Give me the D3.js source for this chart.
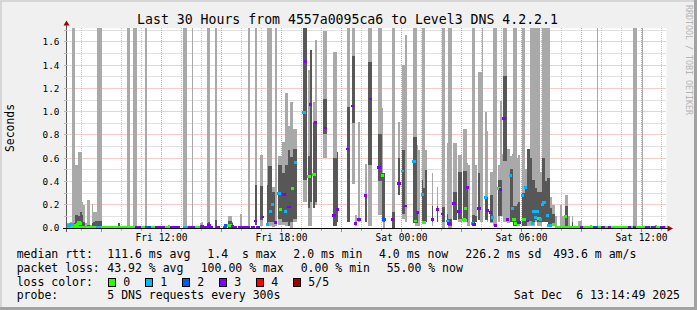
<!DOCTYPE html>
<html>
<head>
<meta charset="utf-8">
<script src="https://cdn.jsdelivr.net/npm/d3@7"></script>
<style>
  html, body { margin: 0; padding: 0; background: #f0f0f0; }
  svg { display: block; }
  text { font-family: "DejaVu Sans Mono", monospace; fill: #000; }
</style>
</head>
<body>
<div id="chart"></div>
<script>
// slot = 5 minute step counted from the graph start (Fri 07:14:49), 360 slots = 30 h
// smoke: [slot, low, high, dark low, dark high] in seconds (1.80 = above the top)
var smoke = [
  [0, 0.00, 0.04, null, null], [1, 0.00, 0.04, 0.00, 0.02], [2, 0.00, 0.05, 0.01, 0.03],
  [3, 0.01, 1.80, 0.01, 0.04], [4, 0.01, 1.80, 0.01, 0.04], [5, 0.00, 0.54, 0.01, 0.11],
  [6, 0.00, 0.54, 0.01, 0.11], [7, 0.00, 0.65, 0.02, 0.10], [8, 0.00, 0.65, 0.02, 0.14],
  [9, 0.00, 0.22, 0.02, 0.11], [10, 0.00, 0.20, 0.01, 0.05], [11, 0.00, 0.04, null, null],
  [12, 0.00, 0.24, 0.01, 0.03], [13, 0.00, 0.24, 0.01, 0.03], [14, 0.00, 0.03, null, null],
  [15, 0.00, 0.21, 0.01, 0.04], [16, 0.00, 0.14, 0.01, 0.05], [17, 0.00, 0.14, 0.01, 0.06],
  [18, 0.01, 1.80, 0.01, 0.06], [19, 0.01, 1.80, 0.01, 0.06], [20, 0.01, 1.80, 0.01, 0.06],
  [26, 0.00, 0.02, null, null], [31, 0.00, 0.04, 0.00, 0.04],
  [36, 0.00, 1.80, null, null], [37, 0.00, 1.80, null, null],
  [40, 0.00, 1.80, null, null], [41, 0.00, 1.80, null, null], [47, 0.00, 1.80, null, null],
  [61, 0.00, 0.03, null, null], [70, 0.00, 1.80, null, null], [71, 0.00, 1.80, null, null],
  [75, 0.00, 1.80, null, null], [80, 0.00, 0.04, 0.00, 0.03], [81, 0.00, 0.05, 0.00, 0.03],
  [84, 0.00, 1.80, 0.00, 0.04], [85, 0.00, 1.80, 0.00, 0.05], [89, 0.00, 1.80, 0.00, 0.07],
  [95, 0.00, 0.03, 0.00, 0.03], [97, 0.00, 0.10, 0.00, 0.06], [98, 0.00, 0.10, 0.00, 0.06],
  [99, 0.00, 0.05, 0.00, 0.04], [104, 0.00, 0.12, null, null], [109, 0.00, 1.80, null, null],
  [113, 0.03, 1.80, 0.03, 0.37], [116, 0.02, 0.63, 0.07, 0.36], [117, 0.02, 0.63, 0.07, 0.36],
  [120, 0.02, 1.80, 0.02, 0.37], [121, 0.02, 1.80, 0.05, 0.53], [122, 0.02, 1.80, 0.05, 0.53],
  [123, 0.01, 0.35, 0.05, 0.31], [124, 0.01, 0.35, 0.05, 0.31], [125, 0.02, 1.80, null, null],
  [127, 0.03, 0.62, 0.08, 0.54], [128, 0.03, 0.62, 0.08, 0.54], [129, 0.03, 0.74, 0.05, 0.47],
  [130, 0.03, 0.74, 0.05, 0.47], [131, 0.02, 1.16, 0.05, 0.54], [132, 0.02, 1.16, 0.05, 0.54],
  [133, 0.02, 0.88, 0.02, 0.67], [134, 0.00, 1.08, 0.05, 0.61], [135, 0.00, 1.08, 0.05, 0.61],
  [136, 0.05, 0.85, 0.08, 0.68], [137, 0.05, 0.85, 0.08, 0.68],
  [142, 0.22, 1.80, 0.41, 1.80], [143, 0.22, 1.80, 0.41, 1.80],
  [145, 0.02, 1.36, 0.17, 0.62], [146, 0.02, 1.53, 0.22, 1.53],
  [148, 0.20, 1.08, 0.17, 0.91], [149, 0.20, 1.62, 0.22, 0.91],
  [154, 0.60, 1.69, 0.81, 1.11], [155, 0.60, 1.69, 0.81, 1.11],
  [160, 0.05, 1.51, 0.02, 0.60], [161, 0.05, 1.51, 0.02, 0.60], [162, 0.05, 0.65, 0.05, 0.65],
  [168, 0.05, 1.80, 0.05, 1.04], [169, 0.05, 1.80, 0.05, 1.04],
  [171, 0.38, 1.80, 0.90, 1.48], [172, 0.38, 1.80, 0.90, 1.48],
  [173, 0.02, 0.11, null, null], [175, 0.05, 0.91, null, null], [179, 0.05, 0.55, 0.05, 0.28],
  [181, 0.02, 1.80, 0.54, 1.43], [182, 0.02, 1.80, 0.54, 1.43],
  [187, 0.11, 1.80, 0.40, 0.81], [188, 0.11, 1.80, 0.40, 0.81],
  [189, 0.05, 1.03, 0.08, 0.47], [190, 0.00, 0.47, 0.05, 0.47],
  [195, 0.00, 1.80, 0.00, 0.14], [196, 0.00, 1.80, 0.00, 0.14], [199, 0.28, 0.91, 0.28, 0.60],
  [201, 0.08, 1.40, 0.12, 0.67], [202, 0.08, 1.40, 0.12, 0.67], [203, 0.05, 1.66, null, null],
  [208, 0.04, 1.80, 0.04, 0.78], [209, 0.02, 1.80, 0.04, 0.78], [210, 0.02, 0.71, 0.04, 0.13],
  [211, 0.02, 0.67, null, null], [213, 0.04, 1.80, 0.05, 0.41], [214, 0.04, 1.80, 0.04, 0.34],
  [215, 0.05, 0.67, 0.05, 0.50], [219, 0.02, 0.47, 0.05, 0.19], [222, 0.05, 0.35, 0.05, 0.19],
  [225, 0.00, 1.80, 0.05, 0.18], [226, 0.00, 1.80, 0.05, 0.18], [228, 0.05, 0.73, 0.04, 0.12],
  [229, 0.00, 1.80, 0.02, 0.08], [230, 0.00, 1.80, 0.02, 0.08],
  [232, 0.07, 0.73, 0.07, 0.31], [233, 0.07, 0.73, 0.07, 0.31],
  [235, 0.05, 0.63, 0.08, 0.48], [236, 0.05, 0.63, 0.08, 0.48],
  [238, 0.05, 0.85, 0.08, 0.49], [239, 0.05, 0.85, 0.08, 0.49],
  [240, 0.02, 0.56, 0.05, 0.35], [241, 0.02, 0.54, null, null],
  [243, 0.02, 1.80, 0.02, 0.11], [244, 0.02, 1.80, 0.02, 0.11], [245, 0.05, 0.54, 0.05, 0.10],
  [247, 0.07, 1.34, 0.07, 0.47], [248, 0.05, 1.34, null, null], [249, 0.05, 1.80, null, null],
  [251, 0.07, 1.00, 0.07, 0.27], [252, 0.05, 0.83, 0.07, 0.27],
  [254, 0.04, 0.48, 0.05, 0.28], [255, 0.04, 0.48, 0.05, 0.28],
  [256, 0.02, 1.80, null, null], [257, 0.02, 1.80, null, null],
  [259, 0.05, 0.54, 0.10, 0.41], [260, 0.10, 1.09, 0.10, 0.41], [261, 0.10, 0.64, null, null],
  [262, 0.05, 1.80, 0.58, 1.31], [263, 0.05, 1.80, 0.58, 1.31],
  [264, 0.04, 0.68, null, null], [265, 0.04, 0.68, null, null],
  [266, 0.05, 0.62, 0.05, 0.51], [267, 0.05, 0.64, 0.05, 0.51],
  [268, 0.02, 1.80, 0.02, 0.19], [269, 0.02, 1.80, 0.02, 0.19],
  [270, 0.02, 0.60, 0.05, 0.21], [271, 0.02, 0.63, 0.05, 0.22],
  [273, 0.02, 1.80, 0.02, 0.30], [274, 0.02, 1.80, 0.02, 0.30], [275, 0.02, 0.51, 0.02, 0.35],
  [276, 0.02, 0.68, 0.05, 0.68], [277, 0.02, 0.68, 0.05, 0.68], [278, 0.02, 1.80, 0.05, 0.60],
  [279, 0.02, 1.80, 0.05, 0.41], [280, 0.02, 1.80, 0.05, 0.41], [281, 0.05, 1.80, 0.07, 0.34],
  [282, 0.02, 1.80, 0.05, 0.31], [283, 0.02, 1.80, 0.05, 0.31], [284, 0.02, 0.48, 0.05, 0.31],
  [285, 0.05, 1.80, 0.05, 0.60], [286, 0.05, 1.80, 0.05, 0.60], [287, 0.05, 1.80, 0.05, 0.40],
  [288, 0.05, 1.80, 0.05, 0.43], [289, 0.02, 1.80, 0.02, 0.43], [290, 0.02, 0.27, 0.02, 0.17],
  [291, 0.02, 0.20, 0.02, 0.12], [292, 0.02, 0.20, 0.02, 0.12], [293, 0.02, 0.10, null, null],
  [296, 0.00, 0.20, null, null], [297, 0.00, 0.10, null, null], [298, 0.00, 0.10, null, null],
  [299, 0.00, 0.28, 0.00, 0.19], [300, 0.00, 0.28, 0.00, 0.19], [301, 0.00, 0.10, null, null],
  [303, 0.00, 0.10, 0.00, 0.05], [305, 0.00, 0.02, null, null],
  [307, 0.00, 0.06, null, null], [308, 0.00, 0.06, null, null],
  [312, 0.00, 0.02, null, null], [314, 0.00, 0.03, null, null], [318, 0.00, 1.80, null, null],
  [340, 0.00, 1.80, null, null], [341, 0.00, 1.80, null, null], [345, 0.00, 1.80, null, null],
  [353, 0.00, 0.03, null, null], [357, 0.00, 0.02, null, null]
];

// median rtt: [slot, seconds, lost pings]
var medians = [
  [1, 0.02, 1], [2, 0.03, 1], [3, 0.03, 1], [5, 0.02, 0], [6, 0.03, 0], [7, 0.045, 0], [8, 0.04, 0],
  [81, 0.015, 3], [85, 0.02, 3], [95, 0.02, 2], [97, 0.02, 0], [98, 0.02, 0], [99, 0.015, 3],
  [113, 0.06, 3], [117, 0.095, 3], [120, 0.03, 1], [122, 0.14, 1], [123, 0.20, 1], [125, 0.05, 3],
  [127, 0.30, 1], [128, 0.16, 0], [130, 0.29, 3], [131, 0.14, 1], [133, 0.18, 3], [135, 0.34, 0],
  [137, 0.56, 1], [142, 0.99, 1], [143, 1.43, 3], [145, 0.44, 0], [146, 1.06, 3], [148, 0.46, 0],
  [149, 0.91, 3], [155, 0.86, 3], [160, 0.11, 3], [162, 0.16, 3], [168, 0.68, 3], [171, 1.05, 3],
  [173, 0.04, 3], [175, 0.07, 3], [179, 0.28, 3], [182, 1.11, 3], [187, 0.52, 3], [189, 0.45, 0],
  [190, 0.07, 2], [195, 0.07, 3], [199, 0.38, 3], [201, 0.49, 1], [203, 0.19, 3], [208, 0.57, 1],
  [209, 0.06, 0], [210, 0.13, 3], [213, 0.29, 1], [214, 0.05, 0], [219, 0.07, 3], [222, 0.16, 3],
  [225, 0.12, 3], [228, 0.06, 1], [229, 0.04, 3], [232, 0.21, 3], [235, 0.14, 3], [238, 0.07, 0],
  [239, 0.17, 0], [240, 0.35, 3], [243, 0.04, 1], [244, 0.03, 3], [247, 0.17, 3], [251, 0.26, 1],
  [252, 0.15, 3], [254, 0.13, 3], [255, 0.09, 1], [257, 0.02, 3], [259, 0.34, 0], [260, 0.33, 3],
  [262, 0.94, 3], [264, 0.07, 3], [266, 0.45, 1], [267, 0.17, 1], [268, 0.07, 0], [269, 0.04, 0],
  [270, 0.04, 0], [271, 0.05, 3], [273, 0.28, 1], [274, 0.07, 0], [275, 0.35, 1], [276, 0.06, 3],
  [278, 0.05, 0], [279, 0.04, 1], [280, 0.14, 1], [281, 0.09, 1], [282, 0.14, 1], [283, 0.08, 0],
  [284, 0.07, 1], [285, 0.20, 1], [286, 0.22, 1], [288, 0.11, 1], [289, 0.02, 1], [290, 0.02, 1],
  [292, 0.03, 0], [299, 0.10, 0]
];

// runs of slots whose median sits just above zero: [first slot, last slot, lost pings]
var quietMedian = 0.012;
var quietRuns = [
  [0, 17, 0], [18, 20, 1], [21, 40, 0], [41, 44, 3], [45, 46, 0], [47, 50, 2], [51, 52, 0],
  [53, 58, 3], [59, 61, 0], [62, 67, 3], [70, 72, 1], [73, 76, 3], [77, 79, 0], [80, 87, 3],
  [90, 91, 3], [94, 94, 2], [100, 101, 3], [103, 109, 3], [111, 112, 3], [114, 115, 3],
  [293, 307, 0], [308, 309, 3], [310, 315, 0], [316, 318, 2], [319, 320, 0], [321, 322, 3],
  [323, 324, 0], [325, 326, 3], [327, 336, 0], [337, 338, 3], [339, 339, 0], [340, 341, 3],
  [342, 346, 0], [347, 349, 3], [350, 350, 0], [351, 353, 3], [354, 355, 0], [356, 358, 3],
  [359, 359, 0]
];

var lossColors = ["#26ff00", "#00b8ff", "#0059ff", "#7e00ff", "#ff0000", "#a10000"];
var lossLabels = ["0", "1", "2", "3", "4", "5/5"];
var yTicks = [0, 0.2, 0.4, 0.6, 0.8, 1.0, 1.2, 1.4, 1.6];

var titleText = "Last 30 Hours from 4557a0095ca6 to Level3 DNS 4.2.2.1";
var rttStats = ["111.6 ms avg", "1.4  s max", "2.0 ms min", "4.0 ms now", "226.2 ms sd", "493.6 m am/s"];
var lossStats = ["43.92 % avg", "100.00 % max", "0.00 % min", "55.00 % now"];
var probeText = "5 DNS requests every 300s";
var stampText = "Sat Dec  6 13:14:49 2025";

function draw_smokeping(lugar)
{
  "use strict";

  var width = 697, height = 310;
  var left = 66.5, right = 666.5, top = 28, bottom = 228;

  var t0 = new Date(2025, 11, 5, 7, 14, 49),
      t1 = new Date(2025, 11, 6, 13, 14, 49);

  var x = d3.scaleTime().domain([t0, t1]).range([left, right]);
  var y = d3.scaleLinear().domain([0, 1.72]).range([bottom, top]);

  var slotX = function (s) { return x(new Date(t0.getTime() + s * 300000)); };
  var slotW = function (s) { return slotX(s + 1) - slotX(s); };
  var crisp = function (v) { return Math.floor(v) + 0.5; };

  var svg = d3.select(lugar)
    .append("svg")
      .attr("width", width)
      .attr("height", height);

  svg.append("rect").attr("width", width).attr("height", height).attr("fill", "#f0f0f0");
  // frame shading
  svg.append("rect").attr("x", 0).attr("y", 0).attr("width", width).attr("height", 2).attr("fill", "#d6d6d6");
  svg.append("rect").attr("x", 0).attr("y", 0).attr("width", 2).attr("height", height).attr("fill", "#d6d6d6");
  svg.append("rect").attr("x", 0).attr("y", height - 3).attr("width", width).attr("height", 3).attr("fill", "#a2a2a2");
  svg.append("rect").attr("x", width - 3).attr("y", 0).attr("width", 3).attr("height", height).attr("fill", "#a2a2a2");

  svg.append("rect")
    .attr("x", left).attr("y", top)
    .attr("width", right - left).attr("height", bottom - top)
    .attr("fill", "#ffffff");

  svg.append("clipPath").attr("id", "plotclip")
    .append("rect").attr("x", left).attr("y", top).attr("width", right - left).attr("height", bottom - top);

  // grid
  var grid = svg.append("g").attr("fill", "none").attr("stroke-width", 1).attr("stroke-dasharray", "1,1");
  var hours = d3.timeHour.range(d3.timeHour.ceil(t0), t1);
  var minorY = d3.range(1, 18).map(function (k) { return k / 10; });

  grid.selectAll("line.vminor")
    .data(hours.filter(function (h) { return h.getHours() % 3 !== 0; }))
    .join("line")
      .attr("x1", function (h) { return crisp(x(h)); }).attr("x2", function (h) { return crisp(x(h)); })
      .attr("y1", top).attr("y2", bottom)
      .attr("stroke", "#c4c4c4");

  grid.selectAll("line.hminor")
    .data(minorY.filter(function (v) { return Math.round(v * 10) % 2 === 1; }))
    .join("line")
      .attr("x1", left).attr("x2", right)
      .attr("y1", function (v) { return crisp(y(v)); }).attr("y2", function (v) { return crisp(y(v)); })
      .attr("stroke", "#c4c4c4");

  grid.selectAll("line.vmajor")
    .data(hours.filter(function (h) { return h.getHours() % 3 === 0; }))
    .join("line")
      .attr("x1", function (h) { return crisp(x(h)); }).attr("x2", function (h) { return crisp(x(h)); })
      .attr("y1", top).attr("y2", bottom)
      .attr("stroke", "#ec9a9a");

  grid.selectAll("line.hmajor")
    .data(yTicks.slice(1))
    .join("line")
      .attr("x1", left).attr("x2", right)
      .attr("y1", function (v) { return crisp(y(v)); }).attr("y2", function (v) { return crisp(y(v)); })
      .attr("stroke", "#ec9a9a");

  // smoke
  var plot = svg.append("g").attr("clip-path", "url(#plotclip)").attr("shape-rendering", "crispEdges");

  plot.selectAll("rect.light")
    .data(smoke)
    .join("rect")
      .attr("class", "light")
      .attr("x", function (d) { return slotX(d[0]); })
      .attr("width", function (d) { return slotW(d[0]); })
      .attr("y", function (d) { return y(d[2]); })
      .attr("height", function (d) { return y(d[1]) - y(d[2]); })
      .attr("fill", "#a9a9a9");

  plot.selectAll("rect.dark")
    .data(smoke.filter(function (d) { return d[3] !== null; }))
    .join("rect")
      .attr("class", "dark")
      .attr("x", function (d) { return slotX(d[0]); })
      .attr("width", function (d) { return slotW(d[0]); })
      .attr("y", function (d) { return y(d[4]); })
      .attr("height", function (d) { return Math.max(1, y(d[3]) - y(d[4])); })
      .attr("fill", "#575757");

  // medians coloured by loss
  var quiet = [];
  quietRuns.forEach(function (r) {
    d3.range(r[0], r[1] + 1).forEach(function (s) { quiet.push([s, quietMedian, r[2]]); });
  });

  plot.selectAll("rect.quiet")
    .data(quiet)
    .join("rect")
      .attr("class", "quiet")
      .attr("x", function (d) { return slotX(d[0]) - 0.3; })
      .attr("width", function (d) { return slotW(d[0]) + 0.6; })
      .attr("y", function (d) { return y(d[1]) - 1; })
      .attr("height", 2)
      .attr("fill", function (d) { return lossColors[d[2]]; });

  plot.selectAll("rect.median")
    .data(medians)
    .join("rect")
      .attr("class", "median")
      .attr("x", function (d) { return slotX(d[0]) - 0.7; })
      .attr("width", function (d) { return slotW(d[0]) + 1.4; })
      .attr("y", function (d) { return y(d[1]) - 1.4; })
      .attr("height", 2.8)
      .attr("fill", function (d) { return lossColors[d[2]]; });

  // axes
  var axes = svg.append("g").attr("shape-rendering", "crispEdges");
  axes.append("line")
    .attr("x1", crisp(left)).attr("x2", crisp(left)).attr("y1", top - 4).attr("y2", bottom + 4)
    .attr("stroke", "#5a5a5a");
  axes.append("line")
    .attr("x1", left - 4).attr("x2", right + 3).attr("y1", bottom + 0.5).attr("y2", bottom + 0.5)
    .attr("stroke", "#000000");

  axes.selectAll("line.xtick")
    .data(hours)
    .join("line")
      .attr("x1", function (h) { return crisp(x(h)); }).attr("x2", function (h) { return crisp(x(h)); })
      .attr("y1", bottom + 1).attr("y2", function (h) { return bottom + (h.getHours() % 3 === 0 ? 4 : 3); })
      .attr("stroke", function (h) { return h.getHours() % 3 === 0 ? "#e07070" : "#b0b0b0"; });

  axes.selectAll("line.ytick")
    .data(minorY.concat(yTicks.slice(1)))
    .join("line")
      .attr("x1", left - 3).attr("x2", left)
      .attr("y1", function (v) { return crisp(y(v)); }).attr("y2", function (v) { return crisp(y(v)); })
      .attr("stroke", "#b8b8b8");

  svg.append("path")
    .attr("d", "M63.5,25.5 L69.5,25.5 L66.5,20.5 Z")
    .attr("fill", "#a00000");
  svg.append("path")
    .attr("d", "M667.5,225.5 L667.5,231.5 L673,228.5 Z")
    .attr("fill", "#a00000");

  // tick labels
  svg.append("g")
    .selectAll("text")
    .data(yTicks)
    .join("text")
      .attr("x", 59.5)
      .attr("y", function (v) { return y(v); })
      .attr("dy", "0.36em")
      .attr("text-anchor", "end")
      .style("font-size", "9.4px")
      .text(function (v) { return v.toFixed(1); });

  var fmt = d3.timeFormat("%a %H:%M");
  svg.append("g")
    .selectAll("text")
    .data(hours.filter(function (h) { return h.getHours() % 6 === 0; }))
    .join("text")
      .attr("x", function (h) { return x(h); })
      .attr("y", 241)
      .attr("text-anchor", "middle")
      .style("font-size", "9.6px")
      .text(function (h) { return fmt(h); });

  // title and side texts
  svg.append("text")
    .attr("x", 347.5).attr("y", 24)
    .attr("text-anchor", "middle")
    .style("font-size", "13.2px")
    .text(titleText);

  svg.append("text")
    .attr("transform", "translate(13.5,128) rotate(-90)")
    .attr("text-anchor", "middle")
    .style("font-size", "11.4px")
    .text("Seconds");

  svg.append("text")
    .attr("transform", "translate(685.5,5) rotate(90)")
    .style("font-size", "8.3px")
    .style("fill", "#b4b4b4")
    .text("RRDTOOL / TOBI OETIKER");

  // legend
  var legend = svg.append("g").style("font-size", "11.5px");
  var put = function (str, px, py, anchor) {
    legend.append("text")
      .attr("x", px).attr("y", py)
      .attr("text-anchor", anchor || "start")
      .style("white-space", "pre")
      .text(str);
  };

  var rttX = [107.3, 207.3, 293.3, 379, 465.3, 553.3];
  put("median rtt:", 16.7, 258);
  rttStats.forEach(function (s, k) { put(s, rttX[k], 258); });

  var lossX = [107.3, 200.7, 300.7, 386.7];
  put("packet loss:", 16.7, 271.7);
  lossStats.forEach(function (s, k) { put(s, lossX[k], 271.7); });

  put("loss color:", 16.7, 285.6);
  lossColors.forEach(function (c, k) {
    legend.append("rect")
      .attr("x", 108.5 + k * 37).attr("y", 278.5)
      .attr("width", 7).attr("height", 8)
      .attr("fill", c)
      .attr("stroke", "#000000")
      .attr("stroke-width", 1)
      .attr("shape-rendering", "crispEdges");
    put(lossLabels[k], 123.3 + k * 37, 285.6);
  });

  put("probe:", 16.7, 299.3);
  put(probeText, 107.3, 299.3);
  put(stampText, 680, 299.3, "end");
}

draw_smokeping("#chart");
</script>
</body>
</html>
